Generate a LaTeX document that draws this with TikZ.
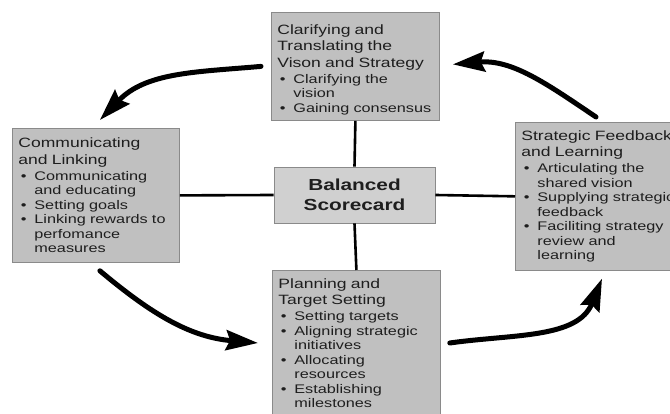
\documentclass[tikz,border=0pt]{standalone}
\usepackage{fontspec}
\setmainfont[FakeStretch=1.3]{Liberation Sans}
\usetikzlibrary{arrows.meta}

\definecolor{boxfill}{HTML}{C0C0C0}
\definecolor{hubfill}{HTML}{D0D0D0}
\definecolor{boxline}{HTML}{8A8A8A}
\definecolor{ink}{HTML}{1E1E1E}

% heading lines and bullet items of a box
\newcommand{\hd}[1]{{\fontsize{13.5}{16.5}\selectfont #1\par}\vspace{1.5pt}}
\newcommand{\itm}[1]{\par\hangindent=16pt\hangafter=1\makebox[16pt][l]{\hspace{2.5pt}\textbullet}#1\par}

\begin{document}
\begin{tikzpicture}[x=1pt,y=1pt,
    box/.style={draw=boxline,fill=boxfill,line width=0.8pt,anchor=north west,
      align=left,inner xsep=6pt,inner ysep=8pt,text=ink,
      font=\fontsize{12.5}{14.5}\selectfont},
    hub/.style={draw=boxline,fill=hubfill,line width=0.8pt,minimum width=161pt,
      minimum height=56pt,align=center,text=ink,
      font=\fontsize{16}{20}\selectfont\bfseries},
    link/.style={line width=2.6pt},
    cyc/.style={line width=5pt,line cap=round,
      -{Stealth[length=32pt,width=20pt,inset=4pt]}},
  ]
\useasboundingbox (0,0) rectangle (670,414);
\clip (0,0) rectangle (670,414);

\node[box,text width=156pt,minimum height=108pt,inner ysep=5pt] (vision) at (271,402)
  {\hd{\rule{0pt}{16pt}Clarifying and\\Translating the\\Vison and Strategy}%
   \itm{Clarifying the\newline vision}\itm{Gaining consensus}};
\node[box,text width=155pt,minimum height=134pt] (comm) at (12,286)
  {\hd{Communicating\\and Linking}%
   \itm{Communicating\newline and educating}\itm{Setting goals}%
   \itm{Linking rewards to\newline perfomance\newline measures}};
\node[box,text width=170pt,minimum height=146pt] (learn) at (515,292)
  {\hd{Strategic Feedback\\and Learning}%
   \itm{Articulating the\newline shared vision}%
   \itm{Supplying strategic\newline feedback}%
   \itm{Faciliting strategy\newline review and\newline learning}};
\node[box,text width=156pt] (plan) at (272,144)
  {\hd{Planning and\\Target Setting}%
   \itm{Setting targets}\itm{Aligning strategic\newline initiatives}%
   \itm{Allocating\newline resources}\itm{Establishing\newline milestones}};
\node[hub] (bsc) at (354.5,219) {Balanced\\Scorecard};

% spokes
\draw[link] (vision.south) -- (bsc.north);
\draw[link] (plan.north) -- (bsc.south);
\draw[link] (comm.east) -- (bsc.west);
\draw[link] (learn.west) -- (bsc.east);

% cycle arrows
\draw[cyc] ([xshift=-10pt]vision.west) to[out=185,in=46]
  ([xshift=4pt,yshift=8pt]comm.north);
\draw[cyc] ([xshift=4pt,yshift=-8pt]comm.south) to[out=-40,in=175]
  ([xshift=-14pt,yshift=-73pt]plan.north west);
\draw[cyc] ([xshift=9pt,yshift=-73pt]plan.north east) to[out=8,in=248]
  ([xshift=87pt,yshift=-8pt]learn.south west);
\draw[cyc] ([xshift=81pt,yshift=5pt]learn.north west) to[out=146,in=5]
  ([xshift=13pt,yshift=2pt]vision.east);
\end{tikzpicture}
\end{document}
